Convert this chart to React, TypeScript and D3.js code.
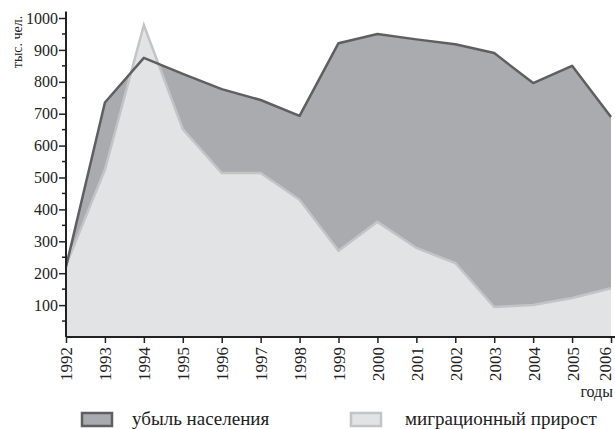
import * as d3 from "d3";
import { useEffect, useRef } from "react";

const years = [1992, 1993, 1994, 1995, 1996, 1997, 1998, 1999, 2000, 2001, 2002, 2003, 2004, 2005, 2006];
// убыль населения (upper, dark)
const loss = [220, 735, 875, 825, 777, 743, 693, 921, 950, 933, 918, 890, 796, 850, 690];
// миграционный прирост (light)
const migration = [225, 525, 978, 652, 514, 514, 430, 270, 361, 279, 232, 94, 100, 122, 153];
const yTicks = [100, 200, 300, 400, 500, 600, 700, 800, 900, 1000];

const width = 615;
const height = 429;

export default function App() {
  const svgRef = useRef<SVGSVGElement | null>(null);

  useEffect(() => {
    if (!svgRef.current) return;
    const svg = d3.select(svgRef.current);
    svg.selectAll("*").remove();

    const x = d3.scaleLinear().domain([1992, 2006]).range([66, 611]);
    const y = d3.scaleLinear().domain([0, 1000]).range([337, 18]);

    const font = '"Liberation Serif", "DejaVu Serif", serif';

    const area = d3
      .area<number>()
      .x((_, i) => x(years[i]))
      .y0(y(0))
      .y1((d) => y(d));
    const line = d3
      .line<number>()
      .x((_, i) => x(years[i]))
      .y((d) => y(d));

    // dark area
    svg.append("path").datum(loss).attr("d", area).attr("fill", "#aaabae");
    // light area on top
    svg.append("path").datum(migration).attr("d", area).attr("fill", "#e2e3e5");
    svg
      .append("path")
      .datum(migration)
      .attr("d", line)
      .attr("fill", "none")
      .attr("stroke", "#c3c4c6")
      .attr("stroke-width", 2.5);
    svg
      .append("path")
      .datum(loss)
      .attr("d", line)
      .attr("fill", "none")
      .attr("stroke", "#5f5f62")
      .attr("stroke-width", 2.5)
      .attr("stroke-linejoin", "round");

    // y axis minor ticks
    const yMinor = d3.range(50, 1000, 100);
    svg
      .append("g")
      .selectAll("line")
      .data(yMinor)
      .join("line")
      .attr("x1", 62)
      .attr("x2", 66)
      .attr("y1", (d) => y(d))
      .attr("y2", (d) => y(d))
      .attr("stroke", "#222")
      .attr("stroke-width", 1.5);

    const yAxis = svg
      .append("g")
      .attr("transform", "translate(66,0)")
      .call(
        d3.axisLeft(y).tickValues(yTicks).tickFormat(d3.format("d")).tickSize(7).tickPadding(1).tickSizeOuter(0)
      );
    yAxis.attr("font-family", null);
    yAxis.select(".domain").attr("stroke", "#222").attr("stroke-width", 2).attr("d", `M0,${y(1020)}V${y(0)}`);
    yAxis.selectAll(".tick line").attr("stroke", "#222").attr("stroke-width", 1.5);
    yAxis
      .selectAll(".tick text")
      .style("font-family", font)
      .style("font-size", "16px")
      .attr("fill", "#222");

    const xAxis = svg
      .append("g")
      .attr("transform", `translate(0,${y(0)})`)
      .call(d3.axisBottom(x).tickValues(years).tickFormat(d3.format("d")).tickSize(6).tickSizeOuter(0));
    xAxis.attr("font-family", null);
    xAxis.select(".domain").attr("stroke", "#222").attr("stroke-width", 2).attr("d", `M66,0H${width}`);
    xAxis.selectAll(".tick line").attr("stroke", "#222").attr("stroke-width", 1.5);
    xAxis
      .selectAll<SVGTextElement, number>(".tick text")
      .style("font-family", font)
      .style("font-size", "17px")
      .attr("fill", "#222")
      .attr("transform", "rotate(-90)")
      .attr("text-anchor", "end")
      .attr("x", -10)
      .attr("y", 0)
      .attr("dy", (d) => (d === 2006 ? "-1px" : "0.35em"));

    // axis titles
    svg
      .append("text")
      .attr("transform", "translate(22,42) rotate(-90)")
      .attr("text-anchor", "middle")
      .style("font-family", font)
      .style("font-size", "14px")
      .attr("fill", "#222")
      .text("тыс. чел.");
    svg
      .append("text")
      .attr("x", 613)
      .attr("y", 397)
      .attr("text-anchor", "end")
      .style("font-family", font)
      .style("font-size", "16px")
      .attr("fill", "#222")
      .text("годы");

    // legend
    const legendItems = [
      { label: "убыль населения", fill: "#aaabae", stroke: "#5f5f62", x: 82, tx: 132 },
      { label: "миграционный прирост", fill: "#e2e3e5", stroke: "#c3c4c6", x: 351, tx: 405 },
    ];
    const lg = svg
      .append("g")
      .selectAll("g")
      .data(legendItems)
      .join("g")
      .attr("transform", (d) => `translate(${d.x},413)`);
    lg.append("rect")
      .attr("width", 30)
      .attr("height", 13)
      .attr("fill", (d) => d.fill)
      .attr("stroke", (d) => d.stroke)
      .attr("stroke-width", 2.5);
    lg.append("text")
      .attr("x", (d) => d.tx - d.x)
      .attr("y", 12)
      .style("font-family", font)
      .style("font-size", "19px")
      .attr("fill", "#222")
      .text((d) => d.label);
  }, []);

  return (
    <svg
      ref={svgRef}
      width={width}
      height={height}
      style={{ position: "absolute", left: 0, top: 0, background: "#fff" }}
    />
  );
}
